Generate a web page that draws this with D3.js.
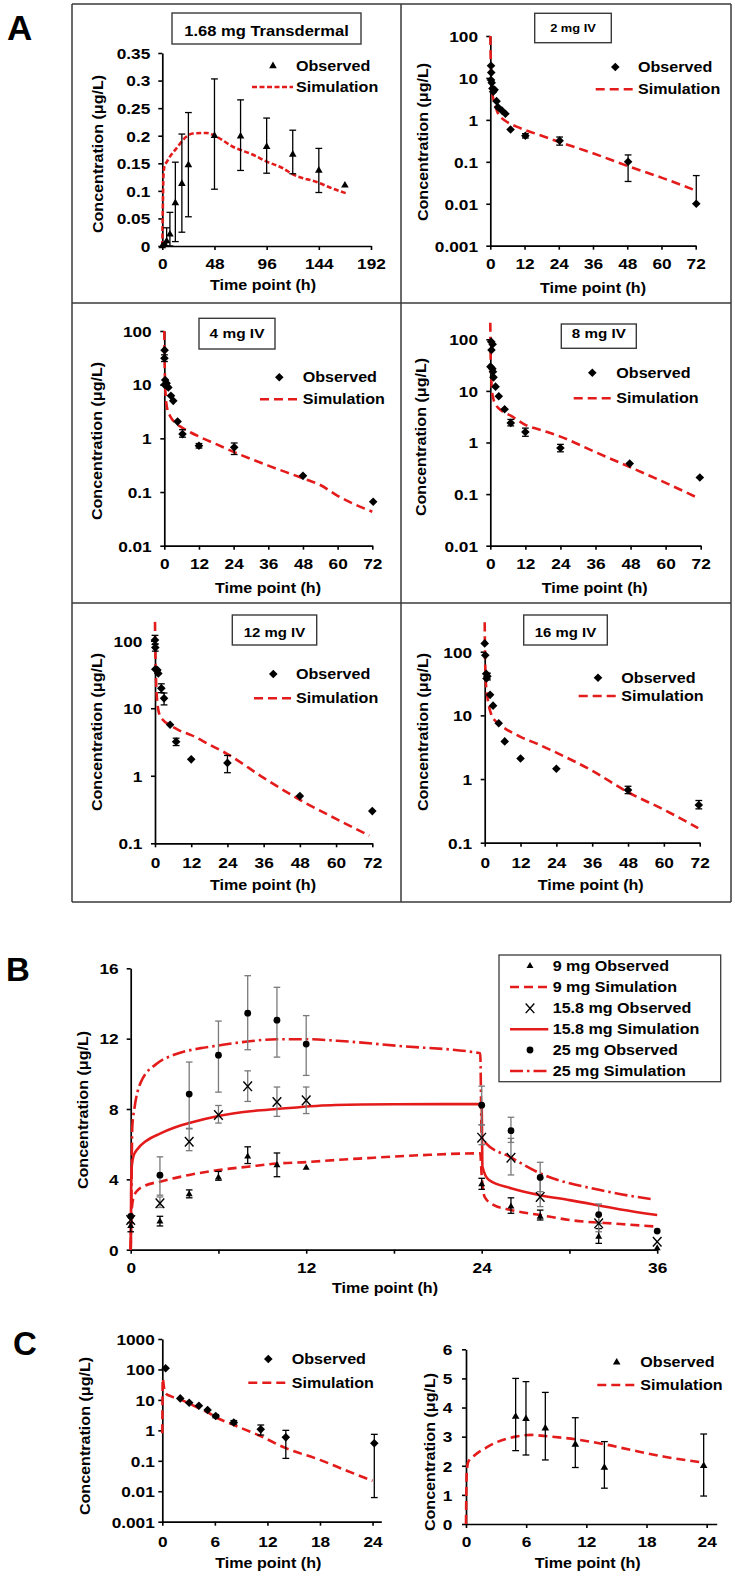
<!DOCTYPE html>
<html><head><meta charset="utf-8">
<script src="https://cdn.jsdelivr.net/npm/d3@7"></script>
<style>
body{margin:0;background:#fff}
svg{display:block}
text{font-family:"Liberation Sans",Arial,Helvetica,sans-serif;font-weight:bold;fill:#000}
</style></head>
<body><svg id="chart" width="735" height="1577"></svg>
<script>
// ---------------- DATA ----------------
// Panel A1: 1.68 mg transdermal
const a1ObsTime = [0, 2, 4, 7, 12, 18, 24, 48, 72, 96, 120, 144, 168];
const a1ObsConc = [0, 0.002, 0.009, 0.021, 0.078, 0.113, 0.147, 0.2, 0.199, 0.18, 0.166, 0.137, 0.11];
const a1ObsHi   = [null, null, 0.033, 0.061, 0.152, 0.203, 0.242, 0.303, 0.265, 0.232, 0.21, 0.177, null];
const a1ObsLo   = [null, null, 0, 0, 0.008, 0.025, 0.053, 0.103, 0.137, 0.132, 0.131, 0.097, null];
const a1SimTime = [0, 0.5, 1, 2, 4, 7, 13, 22, 28, 41, 50, 65, 84, 96, 111, 120, 142, 157, 170];
const a1SimConc = [0, 0.07, 0.125, 0.145, 0.152, 0.162, 0.177, 0.198, 0.204, 0.205, 0.198, 0.18, 0.165, 0.153, 0.141, 0.13, 0.116, 0.104, 0.095];
// Panel A2: 2 mg IV
const a2ObsTime = [0.25, 0.33, 0.25, 0.5, 0.75, 1, 1.5, 2.2, 2.7, 4.1, 5.3, 7.1, 12.3, 24.3, 48.3, 72.2];
const a2ObsConc = [19.6, 13.4, 8.9, 7.7, 5.6, 4.7, 5.2, 2.8, 2.0, 1.66, 1.4, 0.59, 0.42, 0.32, 0.1, 0.01];
const a2ObsHi   = [null, null, null, null, null, null, null, null, null, null, null, null, 0.47, 0.39, 0.146, 0.047];
const a2ObsLo   = [null, null, null, null, null, null, null, null, null, null, null, null, 0.37, 0.25, 0.034, null];
const a2SimTime = [0, 0.1, 0.25, 0.5, 1, 1.5, 2, 3, 4, 6, 9, 12, 18, 24, 36, 48, 60, 71];
const a2SimConc = [100, 40, 15, 6, 3.3, 2.5, 1.9, 1.3, 1.1, 0.88, 0.7, 0.58, 0.42, 0.3, 0.16, 0.08, 0.042, 0.022];
// Panel A3: 4 mg IV
const a3ObsTime = [0.1, 0.05, 0.3, 0.8, 0.1, 1.4, 2.3, 3.1, 4.6, 6.3, 12, 24.2, 48, 72.3];
const a3ObsConc = [44, 31, 12.2, 10.6, 10, 8.9, 6.2, 5.0, 2.05, 1.2, 0.73, 0.68, 0.2, 0.066];
const a3ObsHi   = [null, 36, null, null, null, null, null, null, null, 1.45, 0.8, 0.82, null, null];
const a3ObsLo   = [null, 27, null, null, null, null, null, null, null, 1.05, 0.66, 0.5, null, null];
const a3SimTime = [0, 0.1, 0.25, 0.5, 1, 2, 4, 6, 9, 12, 18, 24, 36, 48, 54, 60, 72];
const a3SimConc = [100, 30, 12, 6, 3.6, 2.6, 1.9, 1.6, 1.3, 1.08, 0.78, 0.56, 0.31, 0.18, 0.135, 0.085, 0.043];
// Panel A4: 8 mg IV
const a4ObsTime = [0.3, 0.8, 0.4, 0.05, 0.7, 0.9, 1.1, 1.8, 2.9, 4.9, 7, 12, 24, 47.7, 71.7];
const a4ObsConc = [90, 80, 62, 29.5, 27, 23.6, 18.3, 12.1, 7.9, 4.4, 2.4, 1.6, 0.78, 0.39, 0.21];
const a4ObsHi   = [null, null, null, null, null, null, null, null, null, null, 2.8, 1.9, 0.92, null, null];
const a4ObsLo   = [null, null, null, null, null, null, null, null, null, null, 2.1, 1.32, 0.66, null, null];
const a4SimTime = [0, 0.1, 0.3, 0.6, 1, 2, 4, 7, 12, 18, 24, 36, 48, 60, 70];
const a4SimConc = [210, 60, 20, 10, 7.2, 5.3, 4.1, 3.3, 2.2, 1.7, 1.3, 0.65, 0.33, 0.165, 0.09];
// Panel A5: 12 mg IV
const a5ObsTime = [0, 0.1, 0.1, 0.8, 1.1, 2.1, 3, 5, 7, 12, 24, 48, 72];
const a5ObsConc = [102, 79, 37.7, 36.8, 32.8, 19.7, 14, 5.7, 3.2, 1.75, 1.55, 0.5, 0.3];
const a5ObsHi   = [120, 90, null, null, null, 23, 16.8, null, 3.6, null, 2.0, null, null];
const a5ObsLo   = [88, 70, null, null, null, 17, 11.2, null, 2.8, null, 1.11, null, null];
const a5SimTime = [0, 0.1, 0.3, 0.6, 1, 1.5, 2.5, 5, 8, 12, 18, 24, 36, 48, 60, 71];
const a5SimConc = [190, 80, 30, 15, 10, 8, 6.8, 5.6, 4.7, 4.0, 2.9, 2.1, 0.93, 0.44, 0.23, 0.13];
// Panel A6: 16 mg IV
const a6ObsTime = [0, 0.2, 0.5, 0.9, 0.6, 1.8, 2.8, 4.7, 6.7, 12, 24, 48, 71.7];
const a6ObsConc = [135, 88, 45, 41, 38, 21, 14.2, 7.5, 3.9, 2.1, 1.45, 0.67, 0.39];
const a6ObsHi   = [null, null, null, 46, null, null, null, null, null, null, null, 0.77, 0.46];
const a6ObsLo   = [null, null, null, 36, null, null, null, null, null, null, null, 0.59, 0.34];
const a6SimTime = [0, 0.1, 0.3, 0.6, 1, 2, 4, 6, 12, 18, 24, 36, 48, 60, 71.5];
const a6SimConc = [290, 100, 40, 25, 18, 11, 7.8, 6.6, 4.6, 3.5, 2.6, 1.35, 0.62, 0.33, 0.17];
// Panel B: 9, 15.8, 25 mg
const bObsTime  = [0, 2, 4, 6, 8, 10, 12, 24, 26, 28, 32, 36];
const b9Conc    = [1.35, 1.6, 3.15, 4.1, 5.3, 4.8, 4.66, 3.72, 2.45, 1.88, 0.74, 0.08];
const b9Hi      = [1.53, 1.9, 3.4, 4.45, 5.85, 5.5, null, 4.06, 2.95, 2.25, 1.2, null];
const b9Lo      = [1.02, 1.35, 2.95, 3.95, 4.9, 4.15, null, 3.43, 2.07, 1.69, 0.36, null];
const b158Conc  = [1.69, 2.64, 6.14, 7.66, 9.29, 8.4, 8.49, 6.37, 5.23, 3.0, 1.5, 0.45];
const b158Hi    = [null, 3.0, 6.9, 8.2, 10.17, 9.25, 9.25, 7.1, 6.33, 4.05, 1.97, null];
const b158Lo    = [null, 2.4, 5.63, 7.2, 8.43, 7.58, 7.74, 5.97, 4.25, 2.45, 1.02, null];
const b25Conc   = [1.9, 4.24, 8.85, 11.06, 13.45, 13.05, 11.69, 8.22, 6.77, 4.11, 2.0, 1.06];
const b25Hi     = [null, 5.28, 10.67, 13.0, 15.58, 14.92, 13.31, 9.3, 7.53, 4.97, 2.6, null];
const b25Lo     = [null, 3.1, 6.87, 8.96, 11.37, 10.95, 9.91, 7.1, 6.1, 3.3, 1.5, null];
const b9SimTime  = [0, 0.05, 0.2, 0.5, 1, 2, 3, 4, 6, 8, 10, 12, 14, 16, 20, 23.9, 24, 24.2, 24.8, 26, 28, 30, 33.5, 36];
const b9SimConc  = [0, 2.0, 3.0, 3.4, 3.65, 3.87, 4.07, 4.25, 4.53, 4.72, 4.9, 4.98, 5.1, 5.2, 5.38, 5.48, 4.2, 3.0, 2.55, 2.26, 1.97, 1.69, 1.46, 1.31];
const b158SimTime = [0, 0.03, 0.07, 0.18, 0.5, 1, 2, 3, 4, 6, 8.2, 10, 14, 18, 23.9, 24, 24.05, 24.5, 26, 28, 30, 33.5, 36];
const b158SimConc = [0, 3.5, 4.72, 5.29, 5.76, 6.15, 6.6, 6.95, 7.2, 7.6, 7.87, 8.0, 8.23, 8.27, 8.28, 8.2, 4.72, 3.96, 3.5, 3.1, 2.82, 2.29, 1.97];
const b25SimTime = [0, 0.03, 0.11, 0.25, 0.68, 1.82, 2.96, 4.79, 5.9, 8, 10, 12, 14.1, 18.4, 23.9, 24, 24.3, 25.9, 28, 32.1, 35.7];
const b25SimConc = [0, 1.53, 7.0, 8.0, 9.5, 10.6, 11.08, 11.46, 11.6, 11.84, 11.97, 11.97, 11.88, 11.58, 11.17, 6.4, 6.05, 5.29, 4.34, 3.39, 2.86];
// Panel C left
const cLObsTime = [0.38, 2.05, 3.07, 4.18, 5.17, 6.1, 8.16, 11.24, 14.1, 24.2];
const cLObsConc = [110, 11.2, 8.1, 6.4, 4.66, 2.96, 1.82, 1.08, 0.59, 0.376];
const cLObsHi   = [null, null, null, null, null, 3.3, 2.1, 1.5, 1.0, 0.74];
const cLObsLo   = [null, null, null, null, null, 2.6, 1.6, 0.7, 0.12, 0.0062];
const cLSimTime = [0, 0.05, 0.2, 0.38, 1, 2.05, 3, 4.2, 5.2, 6.1, 8, 11.2, 14.1, 18, 21, 24];
const cLSimConc = [0.8, 50, 25, 16.6, 13, 10.4, 7.7, 5.3, 3.9, 2.7, 1.57, 0.65, 0.26, 0.107, 0.048, 0.022];
// Panel C right
const cRObsTime = [4.95, 5.98, 7.91, 10.9, 13.8, 23.7];
const cRObsConc = [3.69, 3.61, 3.29, 2.73, 1.94, 2.0];
const cRObsHi   = [5.0, 4.89, 4.52, 3.65, 2.83, 3.09];
const cRObsLo   = [2.52, 2.37, 2.2, 1.94, 1.23, 0.96];
const cRSimTime = [0, 0.07, 0.23, 0.9, 1.9, 3.2, 4.95, 6.5, 7.9, 10.9, 13.8, 16.5, 19.8, 23.5];
const cRSimConc = [0, 1.74, 2.14, 2.37, 2.6, 2.83, 3.0, 3.06, 3.02, 2.91, 2.74, 2.54, 2.31, 2.12];
// Tick values / labels
const a1XTicks = [0, 48, 96, 144, 192];
const a1YTicks = [0, 0.05, 0.1, 0.15, 0.2, 0.25, 0.3, 0.35];
const ivXTicks = [0, 12, 24, 36, 48, 60, 72];
const logTicks3 = [0.001, 0.01, 0.1, 1, 10, 100];
const logTicks2 = [0.01, 0.1, 1, 10, 100];
const logTicks1 = [0.1, 1, 10, 100];
const bXTicks = [0, 6, 12, 18, 24, 30, 36];
const bXLabels = [0, 12, 24, 36];
const bYTicks = [0, 4, 8, 12, 16];
const cXTicks = [0, 6, 12, 18, 24];
const cLYTicks = [0.001, 0.01, 0.1, 1, 10, 100, 1000];
const cRYTicks = [0, 1, 2, 3, 4, 5, 6];
const seriesNames = ["Observed", "Simulation"];
const bLegendNames = ["9 mg Observed", "9 mg Simulation", "15.8 mg Observed", "15.8 mg Simulation", "25 mg Observed", "25 mg Simulation"];
const panelTitles = ["1.68 mg Transdermal", "2 mg IV", "4 mg IV", "8 mg IV", "12 mg IV", "16 mg IV"];
const xTitle = "Time point (h)";
const yTitle = "Concentration (\u03bcg/L)";

// ---------------- DRAWING ----------------
const SX = 1.15;
const RED = "#e31b1b";
const svg = d3.select("#chart");
const zip = (t, v) => t.map((d, i) => [d, v[i]]);

function label(g, x, y, str, size, anchor, rot, sx) {
  return g.append("text")
    .attr("transform", `translate(${x},${y}) rotate(${rot || 0}) scale(${sx == null ? SX : sx},1)`)
    .attr("text-anchor", anchor || "start")
    .style("font-size", size + "px")
    .text(str);
}

function marker(g, type, cx, cy, big) {
  if (type === "diamond") {
    const h = 4.3;
    g.append("path").attr("d", `M0,${-h}L${h},0L0,${h}L${-h},0Z`).attr("transform", `translate(${cx},${cy})`).attr("fill", "#000");
  } else if (type === "triangle") {
    g.append("path").attr("d", d3.symbol(d3.symbolTriangle, big ? 25 : 21)()).attr("transform", `translate(${cx},${cy})`).attr("fill", "#000");
  } else if (type === "circle") {
    g.append("circle").attr("cx", cx).attr("cy", cy).attr("r", 3.4).attr("fill", "#000");
  } else if (type === "x") {
    g.append("path").attr("d", "M-4.3,-4.8L4.3,4.8M-4.3,4.8L4.3,-4.8").attr("transform", `translate(${cx},${cy})`)
      .attr("stroke", "#000").attr("stroke-width", 1.4).attr("fill", "none");
  }
}

function styleAxis(g, left, off, fs) {
  g.attr("font-family", null).attr("font-size", null);
  g.select(".domain").attr("stroke", "#000").attr("stroke-width", 1.7);
  g.selectAll(".tick line").attr("stroke", "#000").attr("stroke-width", 1.6);
  g.selectAll(".tick text").attr("x", null).attr("y", null).attr("dy", null).attr("fill", "#000")
    .style("font-size", (fs || 15) + "px")
    .attr("transform", left ? `translate(${-off},5.3) scale(${SX},1)` : `translate(0,${off}) scale(${SX},1)`);
}

function errorBars(g, x, y, t, c, hi, lo, color, cap) {
  t.forEach((tt, i) => {
    if (hi[i] == null && lo[i] == null) return;
    const xx = x(tt);
    const yTop = y(hi[i] != null ? hi[i] : c[i]);
    const yBot = y(lo[i] != null ? lo[i] : c[i]);
    g.append("line").attr("x1", xx).attr("x2", xx).attr("y1", yTop).attr("y2", yBot).attr("stroke", color).attr("stroke-width", 1.3);
    if (hi[i] != null) g.append("line").attr("x1", xx - cap).attr("x2", xx + cap).attr("y1", yTop).attr("y2", yTop).attr("stroke", color).attr("stroke-width", 1.3);
    if (lo[i] != null) g.append("line").attr("x1", xx - cap).attr("x2", xx + cap).attr("y1", yBot).attr("y2", yBot).attr("stroke", color).attr("stroke-width", 1.3);
  });
}

// A frame grid
const frame = svg.append("g").attr("stroke", "#3a3a3a").attr("stroke-width", 1.5);
[[72, 4, 72, 902], [401, 4, 401, 902], [731, 4, 731, 902], [72, 4, 731, 4], [72, 303, 731, 303], [72, 603, 731, 603], [72, 902, 731, 902]]
  .forEach(l => frame.append("line").attr("x1", l[0]).attr("y1", l[1]).attr("x2", l[2]).attr("y2", l[3]));

// panel letters
label(svg, 7, 40, "A", 35, "start", 0, 1);
label(svg, 6, 981, "B", 33, "start", 0, 1);
label(svg, 13, 1355, "C", 33, "start", 0, 1);

const panels = [
  { title: panelTitles[0], box: [172, 13, 189, 31], tSize: 14.4, tBase: 36,
    left: 162.3, right: 371, top: 53, bottom: 246, xDomain: [0, 192], xTicks: a1XTicks, yDomain: [0, 0.35], yTicks: a1YTicks, log: false,
    yOff: 12, xOff: 23, yT: [98, 154], xT: [263, 290], obsT: a1ObsTime, obsC: a1ObsConc, hi: a1ObsHi, lo: a1ObsLo,
    simT: a1SimTime, simC: a1SimConc, mk: "triangle", dash: "5,2.5", leg: { mx: 273, my: 66, tx: 296, lx1: 252, lx2: 293, ly: 87 } },
  { title: panelTitles[1], box: [534.7, 13.3, 76.6, 29.4], tSize: 11.2, tBase: 32.3,
    left: 490.3, right: 695.7, top: 36, bottom: 245.7, xDomain: [0, 72], xTicks: ivXTicks, yDomain: [0.001, 100], yTicks: logTicks3, log: true,
    yOff: 12.3, xOff: 23.6, yT: [423, 142], xT: [593, 293], obsT: a2ObsTime, obsC: a2ObsConc, hi: a2ObsHi, lo: a2ObsLo,
    simT: a2SimTime, simC: a2SimConc, mk: "diamond", dash: "9,5", leg: { mx: 615.3, my: 67, tx: 638, lx1: 595.7, lx2: 636.3, ly: 89.3 } },
  { title: panelTitles[2], box: [199, 318.3, 76, 30.7], tSize: 13.4, tBase: 338.3,
    left: 164.3, right: 372.3, top: 331, bottom: 545.7, xDomain: [0, 72], xTicks: ivXTicks, yDomain: [0.01, 100], yTicks: logTicks2, log: true,
    yOff: 12.6, xOff: 23.3, yT: [96.7, 441], xT: [268, 593], obsT: a3ObsTime, obsC: a3ObsConc, hi: a3ObsHi, lo: a3ObsLo,
    simT: a3SimTime, simC: a3SimConc, mk: "diamond", dash: "9,5", leg: { mx: 279.3, my: 377.3, tx: 302.7, lx1: 260, lx2: 300, ly: 399.3 } },
  { title: panelTitles[3], box: [561.3, 324, 75, 24.3], tSize: 13.2, tBase: 337.7,
    left: 490.3, right: 700.7, top: 339.3, bottom: 545.7, xDomain: [0, 72], xTicks: ivXTicks, yDomain: [0.01, 100], yTicks: logTicks2, log: true,
    yOff: 12.3, xOff: 23.6, yT: [421.3, 437], xT: [594.7, 593.3], obsT: a4ObsTime, obsC: a4ObsConc, hi: a4ObsHi, lo: a4ObsLo,
    simT: a4SimTime, simC: a4SimConc, mk: "diamond", dash: "9,5", leg: { mx: 592.3, my: 372.7, tx: 616.3, lx1: 573.7, lx2: 613, ly: 398.3 } },
  { title: panelTitles[4], box: [232.3, 615, 84.4, 30], tSize: 13, tBase: 637.3,
    left: 155, right: 372.3, top: 640.7, bottom: 843.3, xDomain: [0, 72], xTicks: ivXTicks, yDomain: [0.1, 100], yTicks: logTicks1, log: true,
    yOff: 12.6, xOff: 25, yT: [96.7, 732], xT: [263, 890], obsT: a5ObsTime, obsC: a5ObsConc, hi: a5ObsHi, lo: a5ObsLo,
    simT: a5SimTime, simC: a5SimConc, mk: "diamond", dash: "9,5", leg: { mx: 273.3, my: 674, tx: 296, lx1: 254, lx2: 293.3, ly: 698.3 } },
  { title: panelTitles[5], box: [523.7, 615, 83.6, 30], tSize: 13, tBase: 637.3,
    left: 484.7, right: 699.7, top: 651.7, bottom: 842.7, xDomain: [0, 72], xTicks: ivXTicks, yDomain: [0.1, 100], yTicks: logTicks1, log: true,
    yOff: 12.6, xOff: 25.3, yT: [423, 732], xT: [590.7, 890], obsT: a6ObsTime, obsC: a6ObsConc, hi: a6ObsHi, lo: a6ObsLo,
    simT: a6SimTime, simC: a6SimConc, mk: "diamond", dash: "9,5", leg: { mx: 598, my: 677.7, tx: 621.3, lx1: 578.7, lx2: 619.7, ly: 696 } },
  { title: null,
    left: 162.3, right: 381.3, top: 1339, bottom: 1521.7, xDomain: [0, 25], xTicks: cXTicks, yDomain: [0.001, 1000], yTicks: cLYTicks, log: true,
    yOff: 7.5, xOff: 25.6, yT: [85, 1436], xT: [268.3, 1568], obsT: cLObsTime, obsC: cLObsConc, hi: cLObsHi, lo: cLObsLo,
    simT: cLSimTime, simC: cLSimConc, mk: "diamond", dash: "9,5", leg: { mx: 268.3, my: 1359, tx: 291.7, lx1: 248.3, lx2: 288.3, ly: 1382.7 } },
  { title: null,
    left: 466, right: 716.7, top: 1349.3, bottom: 1524, xDomain: [0, 25], xTicks: cXTicks, yDomain: [0, 6], yTicks: cRYTicks, log: false,
    yOff: 13.7, xOff: 23.3, yT: [430, 1452], xT: [587.7, 1568], obsT: cRObsTime, obsC: cRObsConc, hi: cRObsHi, lo: cRObsLo,
    simT: cRSimTime, simC: cRSimConc, mk: "triangle", dash: "9,5", leg: { mx: 616.7, my: 1362.3, tx: 640.3, lx1: 597.3, lx2: 639.3, ly: 1385 } }
];

panels.forEach(p => {
  const g = svg.append("g");
  const x = d3.scaleLinear().domain(p.xDomain).range([p.left, p.right]);
  const y = (p.log ? d3.scaleLog() : d3.scaleLinear()).domain(p.yDomain).range([p.bottom, p.top]);
  if (p.title) {
    g.append("rect").attr("x", p.box[0]).attr("y", p.box[1]).attr("width", p.box[2]).attr("height", p.box[3])
      .attr("fill", "#fff").attr("stroke", "#3a3a3a").attr("stroke-width", 1.4);
    label(g, p.box[0] + p.box[2] / 2, p.tBase, p.title, p.tSize, "middle");
  }
  const gx = g.append("g").attr("transform", `translate(0,${p.bottom})`)
    .call(d3.axisBottom(x).tickValues(p.xTicks).tickSize(4).tickSizeOuter(0).tickFormat(d => String(d)));
  styleAxis(gx, false, p.xOff);
  const gy = g.append("g").attr("transform", `translate(${p.left},0)`)
    .call(d3.axisLeft(y).tickValues(p.yTicks).tickSize(4).tickSizeOuter(0).tickFormat(d => String(d)));
  styleAxis(gy, true, p.yOff);
  label(g, p.xT[0], p.xT[1], xTitle, 14, "middle");
  label(g, p.yT[0] + 5, p.yT[1], yTitle, 14, "middle", -90);
  // simulation
  g.append("path").datum(zip(p.simT, p.simC)).attr("fill", "none").attr("stroke", RED).attr("stroke-width", 2.6)
    .attr("stroke-dasharray", p.dash)
    .attr("d", d3.line().x(d => x(d[0])).y(d => y(d[1])).curve(d3.curveMonotoneX));
  errorBars(g, x, y, p.obsT, p.obsC, p.hi, p.lo, "#000", 3.4);
  p.obsT.forEach((t, i) => marker(g, p.mk, x(t), y(p.obsC[i]), true));
  // legend
  marker(g, p.mk, p.leg.mx, p.leg.my, true);
  label(g, p.leg.tx, p.leg.my + 5, seriesNames[0], 14);
  g.append("line").attr("x1", p.leg.lx1).attr("x2", p.leg.lx2).attr("y1", p.leg.ly).attr("y2", p.leg.ly)
    .attr("stroke", RED).attr("stroke-width", 2.6).attr("stroke-dasharray", p.dash);
  label(g, p.leg.tx, p.leg.ly + 5, seriesNames[1], 14);
});

// Panel B
(function () {
  const g = svg.append("g");
  const x = d3.scaleLinear().domain([0, 36]).range([130.7, 657.2]);
  const y = d3.scaleLinear().domain([0, 16]).range([1249.7, 968.3]);
  const gx = g.append("g").attr("transform", "translate(0,1249.7)")
    .call(d3.axisBottom(x).tickValues(bXTicks).tickSize(4).tickSizeOuter(0).tickFormat(d => bXLabels.includes(d) ? String(d) : ""));
  styleAxis(gx, false, 23.3);
  const gy = g.append("g").attr("transform", "translate(130.7,0)")
    .call(d3.axisLeft(y).tickValues(bYTicks).tickSize(4).tickSizeOuter(0).tickFormat(d => String(d)));
  styleAxis(gy, true, 12);
  label(g, 385, 1293, xTitle, 14, "middle");
  label(g, 88, 1110, yTitle, 14, "middle", -90);
  const sims = [
    { t: b9SimTime, c: b9SimConc, dash: "9,5" },
    { t: b158SimTime, c: b158SimConc, dash: null },
    { t: b25SimTime, c: b25SimConc, dash: "13,4,2.5,4" }
  ];
  const line = d3.line().x(d => x(d[0])).y(d => y(d[1])).curve(d3.curveMonotoneX);
  sims.forEach(s => g.append("path").datum(zip(s.t, s.c)).attr("fill", "none").attr("stroke", RED)
    .attr("stroke-width", 2.6).attr("stroke-dasharray", s.dash).attr("d", line));
  const obs = [
    { c: b9Conc, hi: b9Hi, lo: b9Lo, mk: "triangle", col: "#000" },
    { c: b158Conc, hi: b158Hi, lo: b158Lo, mk: "x", col: "#7a7a7a" },
    { c: b25Conc, hi: b25Hi, lo: b25Lo, mk: "circle", col: "#7a7a7a" }
  ];
  obs.forEach(o => errorBars(g, x, y, bObsTime, o.c, o.hi, o.lo, o.col, 3.3));
  obs.forEach(o => bObsTime.forEach((t, i) => marker(g, o.mk, x(t), y(o.c[i]), false)));
  // legend
  g.append("rect").attr("x", 499).attr("y", 955).attr("width", 221.7).attr("height", 126.7)
    .attr("fill", "#fff").attr("stroke", "#3a3a3a").attr("stroke-width", 1.3);
  const rows = [966, 987, 1008.3, 1029.3, 1050, 1071];
  bLegendNames.forEach((name, i) => {
    const ry = rows[i];
    if (i % 2 === 0) marker(g, obs[i / 2].mk, 530, ry, false);
    else g.append("line").attr("x1", 510).attr("x2", 548.3).attr("y1", ry).attr("y2", ry).attr("stroke", RED)
      .attr("stroke-width", 2.6).attr("stroke-dasharray", sims[(i - 1) / 2].dash);
    label(g, 552.7, ry + 5, name, 14);
  });
})();
</script></body></html>
